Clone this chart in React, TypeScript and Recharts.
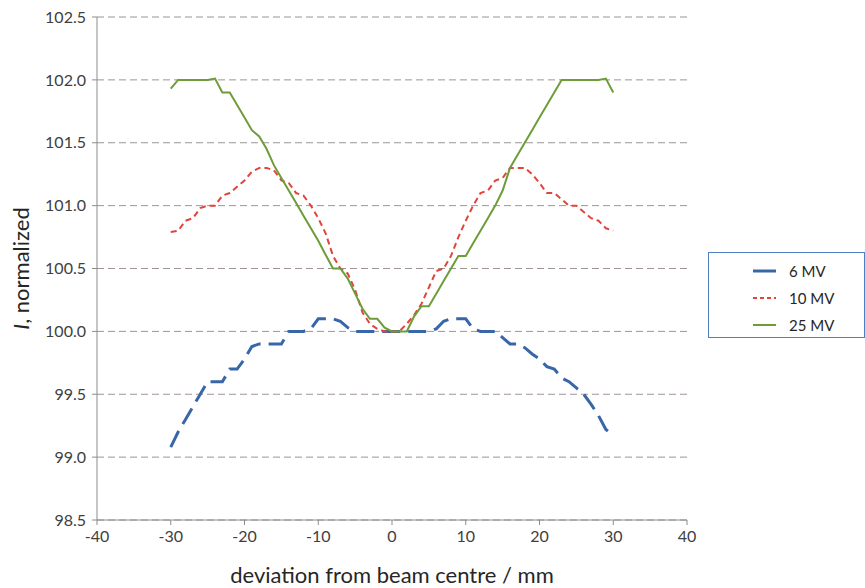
import React from 'react';
import { LineChart, Line, XAxis, YAxis, CartesianGrid } from 'recharts';

// deviation from beam centre, mm
const positions = [
  -30, -29, -28, -27, -26, -25, -24, -23, -22, -21, -20, -19, -18, -17, -16, -15, -14, -13, -12, -11,
  -10, -9, -8, -7, -6, -5, -4, -3, -2, -1, 0, 1, 2, 3, 4, 5, 6, 7, 8, 9,
  10, 11, 12, 13, 14, 15, 16, 17, 18, 19, 20, 21, 22, 23, 24, 25, 26, 27, 28, 29, 30,
];

const mv6 = [
  99.08, 99.2, 99.3, 99.4, 99.5, 99.6, 99.6, 99.6, 99.7, 99.7, 99.78, 99.88, 99.9, 99.9, 99.9, 99.9, 100.0, 100.0, 100.0, 100.02,
  100.1, 100.1, 100.1, 100.08, 100.03, 100.0, 100.0, 100.0, 100.0, 100.0, 100.0, 100.0, 100.0, 100.0, 100.0, 100.0, 100.02, 100.08, 100.1, 100.1,
  100.1, 100.02, 100.0, 100.0, 100.0, 99.95, 99.9, 99.9, 99.87, 99.82, 99.78, 99.72, 99.7, 99.63, 99.6, 99.55, 99.5, 99.42, 99.33, 99.22, 99.17,
];

const mv10 = [
  100.79, 100.8, 100.88, 100.9, 100.98, 101.0, 101.0, 101.08, 101.1, 101.15, 101.2, 101.27, 101.3, 101.3, 101.28, 101.2, 101.18, 101.1, 101.08, 101.0,
  100.9, 100.78, 100.6, 100.5, 100.46, 100.33, 100.15, 100.06, 100.02, 100.0, 100.0, 100.0, 100.06, 100.13, 100.22, 100.35, 100.48, 100.5, 100.6, 100.75,
  100.88, 101.0, 101.1, 101.12, 101.2, 101.22, 101.3, 101.3, 101.3, 101.25, 101.18, 101.1, 101.1, 101.05, 101.0, 101.0, 100.95, 100.9, 100.88, 100.82, 100.8,
];

const mv25 = [
  101.93, 102.0, 102.0, 102.0, 102.0, 102.0, 102.01, 101.9, 101.9, 101.8, 101.7, 101.6, 101.55, 101.45, 101.32, 101.22, 101.12, 101.02, 100.92, 100.82,
  100.72, 100.61, 100.5, 100.5, 100.42, 100.3, 100.18, 100.1, 100.1, 100.03, 100.0, 100.0, 100.0, 100.12, 100.2, 100.2, 100.3, 100.4, 100.5, 100.6,
  100.6, 100.7, 100.8, 100.9, 101.0, 101.12, 101.3, 101.4, 101.5, 101.6, 101.7, 101.8, 101.9, 102.0, 102.0, 102.0, 102.0, 102.0, 102.0, 102.01, 101.9,
];

const xTicks = [-40, -30, -20, -10, 0, 10, 20, 30, 40];
const yTicks = [98.5, 99.0, 99.5, 100.0, 100.5, 101.0, 101.5, 102.0, 102.5];

const series = [
  { key: 'mv6', name: '6 MV', color: '#3866A8', width: 3, dash: '18 8' },
  { key: 'mv10', name: '10 MV', color: '#E0443C', width: 2, dash: '6 4' },
  { key: 'mv25', name: '25 MV', color: '#6E9C38', width: 2, dash: undefined },
];

const data = positions.map((x, i) => ({ x, mv6: mv6[i], mv10: mv10[i], mv25: mv25[i] }));

const FONT = 'Lato, "Open Sans", sans-serif';

const YTitle = (props: any) => {
  const { viewBox } = props;
  const cx = 20;
  const cy = viewBox.y + viewBox.height / 2;
  return (
    <text x={cx} y={cy} transform={`rotate(-90 ${cx} ${cy})`} textAnchor="middle" fontSize={22} fill="#262626" fontFamily={FONT} dominantBaseline="central">
      <tspan fontStyle="italic">I</tspan>, normalized
    </text>
  );
};

const XTitle = (props: any) => {
  const { viewBox } = props;
  return (
    <text x={viewBox.x + viewBox.width / 2} y={viewBox.y + 63} textAnchor="middle" fontSize={22} fill="#262626" fontFamily={FONT}>
      deviation from beam centre / mm
    </text>
  );
};

const LegendBox = () => (
  <div style={{ position: 'absolute', left: 708, top: 252, border: '1px solid #4F7FC4', width: 157, height: 86, boxSizing: 'border-box', paddingTop: 4, fontFamily: FONT, fontSize: 15, color: '#262626', background: 'white' }}>
    {series.map((s) => (
      <div key={s.key} style={{ display: 'flex', alignItems: 'center', height: 27 }}>
        <svg width={80} height={10} style={{ display: 'block' }}>
          <line x1={44} y1={5} x2={67} y2={5} stroke={s.color} strokeWidth={s.width} strokeDasharray={s.key === 'mv10' ? '4 3' : undefined} />
        </svg>
        <span>{s.name}</span>
      </div>
    ))}
  </div>
);

export default function App() {
  return (
    <div style={{ position: 'fixed', left: 0, top: 0, width: 865, height: 588, background: 'white' }}>
      <LineChart width={865} height={588} data={data} margin={{ top: 17, right: 178, bottom: 38, left: 37 }}>
        <CartesianGrid horizontal vertical={false} stroke="#9E9494" strokeDasharray="7 4" />
        <XAxis
          dataKey="x"
          type="number"
          domain={[-40, 40]}
          ticks={xTicks}
          interval={0}
          height={30}
          stroke="#8C8C8C"
          tickSize={5}
          tick={{ fontSize: 16, fill: '#404040', fontFamily: FONT }}
          tickMargin={6}
          label={<XTitle />}
        />
        <YAxis
          type="number"
          domain={[98.5, 102.5]}
          ticks={yTicks}
          interval={0}
          width={60}
          stroke="#8C8C8C"
          tickSize={5}
          tickMargin={6}
          tickFormatter={(v: number) => v.toFixed(1)}
          tick={{ fontSize: 16, fill: '#404040', fontFamily: FONT }}
          label={<YTitle />}
        />
        {series.map((s) => (
          <Line
            key={s.key}
            type="linear"
            dataKey={s.key}
            name={s.name}
            stroke={s.color}
            strokeWidth={s.width}
            strokeDasharray={s.dash}
            dot={false}
            isAnimationActive={false}
          />
        ))}
      </LineChart>
      <LegendBox />
    </div>
  );
}
